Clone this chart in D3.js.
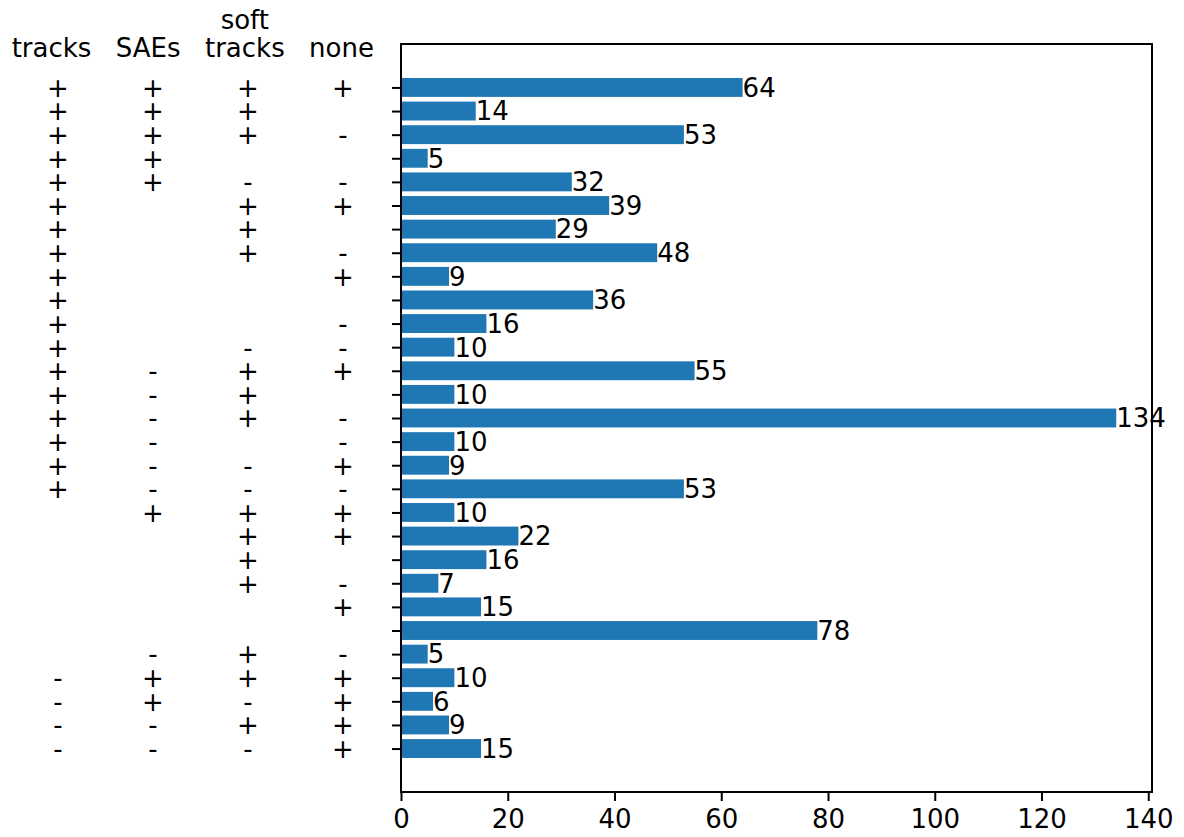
<!DOCTYPE html>
<html>
<head>
<meta charset="utf-8">
<script src="https://cdn.jsdelivr.net/npm/d3@7"></script>
<style>
  html, body { margin: 0; padding: 0; background: #fff; }
  svg { display: block; font-family: "DejaVu Sans", sans-serif; }
</style>
</head>
<body>
<svg id="chart" width="1184" height="837"></svg>
<script>
// Feature columns shown in the table beside the bars
const columns = [["tracks"], ["SAEs"], ["soft", "tracks"], ["none"]];

// One entry per row: "+" present, "-" absent, "" not specified
const tracksFlags = ["+","+","+","+","+","+","+","+","+","+","+","+","+","+","+","+","+","+","","","","","","","","-","-","-","-"];
const saesFlags   = ["+","+","+","+","+","","","","","","","","-","-","-","-","-","-","+","","","","","","-","+","+","-","-"];
const softFlags   = ["+","+","+","","-","+","+","+","","","","-","+","+","+","","-","-","+","+","+","+","","","+","+","-","+","-"];
const noneFlags   = ["+","","-","","-","+","","-","+","","-","-","+","","-","-","+","-","+","+","","-","+","","-","+","+","+","+"];

// Count for each row
const counts = [64,14,53,5,32,39,29,48,9,36,16,10,55,10,134,10,9,53,10,22,16,7,15,78,5,10,6,9,15];

const xTicks = [0,20,40,60,80,100,120,140];

const flagTable = [tracksFlags, saesFlags, softFlags, noneFlags];
const rows = d3.range(counts.length);

const svg = d3.select("#chart");
const fontSize = 26;
const margin = { left: 401, right: 1152, top: 44, bottom: 792 };

// Value axis with a 5% margin past the largest bar
const x = d3.scaleLinear()
  .domain([0, d3.max(counts) * 1.05])
  .range([margin.left, margin.right]);

// Row axis: bars of height 0.8 with a 5% margin at each end
const n = counts.length;
const pad = (n - 1 + 0.8) * 0.05 + 0.4;
const y = d3.scaleLinear()
  .domain([-pad, n - 1 + pad])
  .range([margin.top, margin.bottom]);
const bandPx = y(1) - y(0);

// Bars
svg.append("g").selectAll("rect")
  .data(rows)
  .join("rect")
  .attr("x", x(0))
  .attr("y", i => y(i) - bandPx * 0.4)
  .attr("width", i => x(counts[i]) - x(0))
  .attr("height", bandPx * 0.8)
  .attr("fill", "#1f77b4");

// Count labels at the end of each bar
svg.append("g").selectAll("text")
  .data(rows)
  .join("text")
  .attr("x", i => x(counts[i]))
  .attr("y", i => y(i))
  .attr("dy", "0.36em")
  .attr("font-size", fontSize)
  .attr("fill", "#000")
  .text(i => counts[i]);

// Bottom axis
const xAxis = d3.axisBottom(x)
  .tickValues(xTicks)
  .tickSize(9)
  .tickPadding(9)
  .tickFormat(d3.format("d"));
const gx = svg.append("g")
  .attr("transform", `translate(0,${margin.bottom})`)
  .call(xAxis);
gx.select(".domain").remove();
gx.selectAll("line").attr("stroke", "#000").attr("stroke-width", 2);
gx.selectAll("text").attr("font-size", fontSize).attr("font-family", "DejaVu Sans").attr("fill", "#000");

// Left axis: ticks only
const yAxis = d3.axisLeft(y)
  .tickValues(rows)
  .tickSize(9)
  .tickFormat("");
const gy = svg.append("g")
  .attr("transform", `translate(${margin.left},0)`)
  .call(yAxis);
gy.select(".domain").remove();
gy.selectAll("line").attr("stroke", "#000").attr("stroke-width", 2);

// Frame around the plot area
svg.append("rect")
  .attr("x", margin.left)
  .attr("y", margin.top)
  .attr("width", margin.right - margin.left)
  .attr("height", margin.bottom - margin.top)
  .attr("fill", "none")
  .attr("stroke", "#000")
  .attr("stroke-width", 2);

// Table of flags to the left of the plot
const colX = d3.scalePoint()
  .domain(d3.range(columns.length))
  .range([58, 343]);
const headX = d3.scalePoint()
  .domain(d3.range(columns.length))
  .range([51.5, 341.5]);

const header = svg.append("g");
columns.forEach((lines, c) => {
  lines.forEach((line, k) => {
    header.append("text")
      .attr("x", headX(c))
      .attr("y", 57 - (lines.length - 1 - k) * 28)
      .attr("text-anchor", "middle")
      .attr("font-size", fontSize)
      .attr("fill", "#000")
      .text(line);
  });
});

flagTable.forEach((flags, c) => {
  svg.append("g").selectAll("text")
    .data(rows.filter(i => flags[i] !== ""))
    .join("text")
    .attr("x", colX(c))
    .attr("y", i => y(i))
    .attr("dy", "0.36em")
    .attr("text-anchor", "middle")
    .attr("font-size", fontSize)
    .attr("fill", "#000")
    .text(i => flags[i]);
});
</script>
</body>
</html>
